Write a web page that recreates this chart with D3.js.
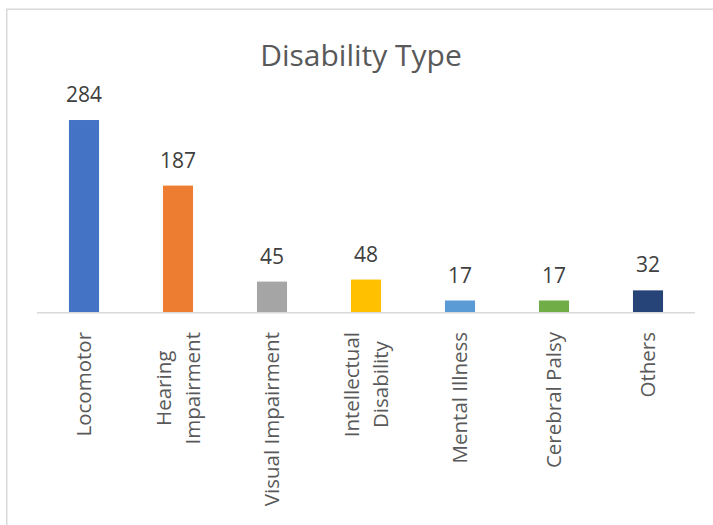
<!DOCTYPE html>
<html>
<head>
<meta charset="utf-8">
<script src="https://cdn.jsdelivr.net/npm/d3@7"></script>
<style>
  html, body { margin: 0; padding: 0; background: #fff; }
  svg { display: block; }
</style>
</head>
<body>
<script>
const categories = ["Locomotor", "Hearing Impairment", "Visual Impairment", "Intellectual Disability", "Mental Illness", "Cerebral Palsy", "Others"];
const categoryLines = [["Locomotor"], ["Hearing", "Impairment"], ["Visual Impairment"], ["Intellectual", "Disability"], ["Mental Illness"], ["Cerebral Palsy"], ["Others"]];
const values = [284, 187, 45, 48, 17, 17, 32];
const colors = ["#4472C4", "#ED7D31", "#A5A5A5", "#FFC000", "#5B9BD5", "#70AD47", "#264478"];
const titleText = "Disability Type";

const W = 713, H = 525;
const svg = d3.select("body").append("svg").attr("width", W).attr("height", H);

// chart border (extends past the picture edges)
svg.append("rect")
  .attr("x", 6.75).attr("y", 9.25)
  .attr("width", 730).attr("height", 540)
  .attr("fill", "#fff").attr("stroke", "#d9d9d9").attr("stroke-width", 1.5);

const x = d3.scaleBand().domain(categories).range([37, 695]).paddingInner(0.68).paddingOuter(0.34);
const y = d3.scaleLinear().domain([0, 300]).range([312, 312 - 300 * 0.676]);

const font = "'Open Sans', sans-serif";

// title
svg.append("text")
  .attr("x", 361).attr("y", 66)
  .attr("text-anchor", "middle")
  .attr("font-family", font).attr("font-size", 30)
  .attr("fill", "#595959")
  .text(titleText);

// bars
svg.selectAll("rect.bar").data(values).enter().append("rect")
  .attr("class", "bar")
  .attr("x", (d, i) => x(categories[i]))
  .attr("width", x.bandwidth())
  .attr("y", d => y(d))
  .attr("height", d => y(0) - y(d))
  .attr("fill", (d, i) => colors[i]);

// axis line
const axis = d3.axisBottom(x).tickSize(0).tickFormat("");
const gAxis = svg.append("g").attr("transform", `translate(0,${y(0) + 0.75})`).call(axis);
gAxis.select(".domain").attr("stroke", "#d9d9d9").attr("stroke-width", 1.5).attr("d", "M37,0H695");

// data labels
svg.selectAll("text.val").data(values).enter().append("text")
  .attr("class", "val")
  .attr("x", (d, i) => x(categories[i]) + x.bandwidth() / 2)
  .attr("y", d => y(d) - 18)
  .attr("text-anchor", "middle")
  .attr("font-family", font).attr("font-size", 21)
  .attr("fill", "#404040")
  .text(d => d);

// category labels (rotated)
const lineGap = 29.5;
categories.forEach((c, i) => {
  const cx = x(c) + x.bandwidth() / 2;
  const lines = categoryLines[i];
  const g = svg.append("g");
  const texts = lines.map((ln, j) => g.append("text")
    .attr("font-family", font).attr("font-size", 20.5)
    .attr("fill", "#595959")
    .attr("text-anchor", "middle")
    .text(ln));
  const maxLen = d3.max(texts, t => t.node().getComputedTextLength());
  const cy = 332 + maxLen / 2;
  texts.forEach((t, j) => {
    const off = (j - (lines.length - 1) / 2) * lineGap;
    t.attr("transform", `translate(${cx + 7.4 + off},${cy}) rotate(-90)`);
  });
});
</script>
</body>
</html>
